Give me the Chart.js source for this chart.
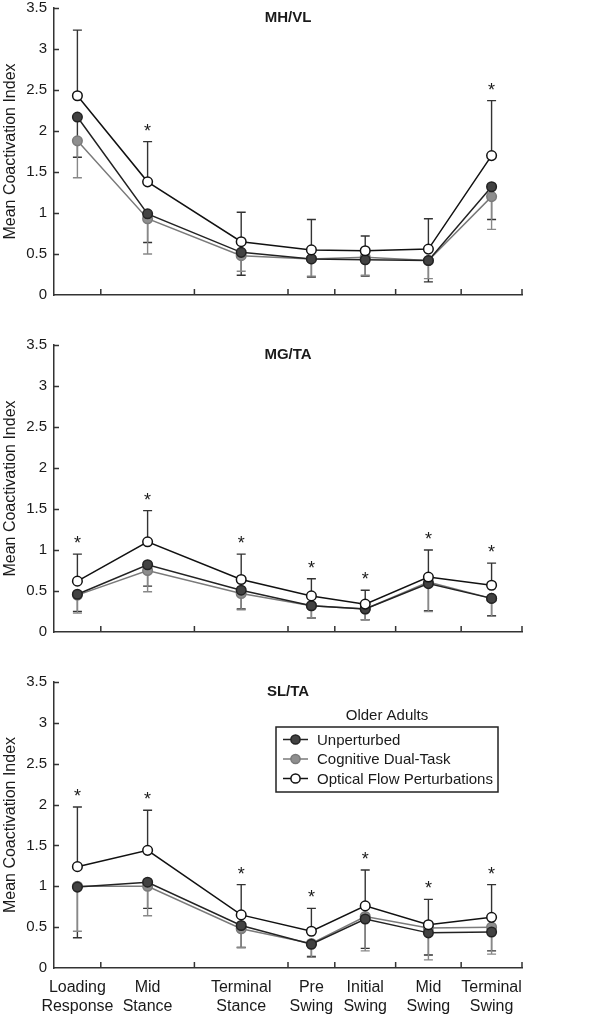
<!DOCTYPE html>
<html>
<head>
<meta charset="utf-8">
<script src="https://cdn.jsdelivr.net/npm/chart.js@4.4.1/dist/chart.umd.min.js"></script>
<style>
  body { margin: 0; background: #fff; width: 600px; height: 1019px; position: relative; overflow: hidden; }
  canvas { position: absolute; left: 0; }
</style>
</head>
<body>
<canvas id="c1" width="600" height="337" style="top:-2px"></canvas>
<canvas id="c2" width="600" height="337" style="top:335px"></canvas>
<canvas id="c3" width="600" height="347" style="top:672px"></canvas>
<script>
// gait phases: boundaries (% of cycle) and label positions
const phaseEdges = [10, 30, 50, 60, 73, 87, 100];
const phaseMid = [5, 20, 40, 55, 66.5, 80, 93.5];
const phaseLabels = [["Loading", "Response"], ["Mid", "Stance"], ["Terminal", "Stance"],
  ["Pre", "Swing"], ["Initial", "Swing"], ["Mid", "Swing"], ["Terminal", "Swing"]];
const seriesNames = ["Unperturbed", "Cognitive Dual-Task", "Optical Flow Perturbations"];

// MH/VL
const mhvlUnpert = [2.17, 0.99, 0.52, 0.44, 0.43, 0.42, 1.32];
const mhvlUnpertSD = [0.49, 0.35, 0.28, 0.22, 0.20, 0.26, 0.40];
const mhvlDual = [1.88, 0.93, 0.48, 0.44, 0.46, 0.42, 1.20];
const mhvlDualSD = [0.45, 0.43, 0.19, 0.21, 0.22, 0.22, 0.40];
const mhvlOptic = [2.43, 1.38, 0.65, 0.55, 0.54, 0.56, 1.70];
const mhvlOpticSD = [0.80, 0.49, 0.36, 0.37, 0.18, 0.37, 0.67];
const mhvlSig = [0, 1, 0, 0, 0, 0, 1];

// MG/TA
const mgtaUnpert = [0.46, 0.82, 0.51, 0.32, 0.28, 0.59, 0.41];
const mgtaUnpertSD = [0.21, 0.26, 0.23, 0.15, 0.13, 0.33, 0.21];
const mgtaDual = [0.45, 0.75, 0.47, 0.32, 0.28, 0.61, 0.41];
const mgtaDualSD = [0.22, 0.26, 0.20, 0.15, 0.13, 0.36, 0.22];
const mgtaOptic = [0.62, 1.10, 0.64, 0.44, 0.34, 0.67, 0.57];
const mgtaOpticSD = [0.33, 0.38, 0.31, 0.21, 0.17, 0.33, 0.27];
const mgtaSig = [1, 1, 1, 1, 1, 1, 1];

// SL/TA
const sltaUnpert = [0.99, 1.05, 0.52, 0.29, 0.60, 0.43, 0.44];
const sltaUnpertSD = [0.62, 0.32, 0.27, 0.15, 0.36, 0.27, 0.23];
const sltaDual = [1.00, 1.00, 0.48, 0.30, 0.63, 0.49, 0.50];
const sltaDualSD = [0.55, 0.36, 0.23, 0.17, 0.42, 0.39, 0.33];
const sltaOptic = [1.24, 1.44, 0.65, 0.45, 0.76, 0.53, 0.62];
const sltaOpticSD = [0.73, 0.49, 0.37, 0.28, 0.44, 0.31, 0.40];
const sltaSig = [1, 1, 1, 1, 1, 1, 1];

const FONT = "'Liberation Sans', Arial, Helvetica, sans-serif";
const AXIS = "#333";
const TEXT = "#1a1a1a";

const styles = [
  { line: "#222", fill: "#424242", border: "#222", err: "#333", dir: -1, order: 2 },
  { line: "#7a7a7a", fill: "#8e8e8e", border: "#7a7a7a", err: "#888", dir: -1, order: 3 },
  { line: "#111", fill: "#ffffff", border: "#111", err: "#333", dir: 1, order: 1 },
];

const panelPlugin = {
  id: "panel",
  beforeDatasetsDraw(chart) {
    const ctx = chart.ctx;
    const y = chart.scales.y;
    chart.data.datasets.forEach((ds, i) => {
      const meta = chart.getDatasetMeta(i);
      ctx.save();
      ctx.strokeStyle = ds.errColor;
      ctx.lineWidth = 1.4;
      meta.data.forEach((pt, j) => {
        const end = y.getPixelForValue(ds.data[j].y + ds.errDir * ds.err[j]);
        ctx.beginPath();
        ctx.moveTo(pt.x, pt.y);
        ctx.lineTo(pt.x, end);
        ctx.moveTo(pt.x - 4.5, end);
        ctx.lineTo(pt.x + 4.5, end);
        ctx.stroke();
      });
      ctx.restore();
    });
  },
  afterDraw(chart, args, opts) {
    const ctx = chart.ctx;
    const { left, right, top, bottom } = chart.chartArea;
    const x = chart.scales.x, y = chart.scales.y;
    ctx.save();
    // inward ticks
    ctx.strokeStyle = AXIS;
    ctx.lineWidth = 1.5;
    ctx.beginPath();
    y.ticks.forEach(t => {
      if (t.value === 0) return;
      const py = Math.round(y.getPixelForValue(t.value)) + 0.5;
      ctx.moveTo(left, py);
      ctx.lineTo(left + 5, py);
    });
    phaseEdges.forEach(v => {
      const px = x.getPixelForValue(v);
      ctx.moveTo(px, bottom);
      ctx.lineTo(px, bottom - 6);
    });
    ctx.stroke();

    // panel title
    ctx.fillStyle = TEXT;
    ctx.font = "bold 15px " + FONT;
    ctx.textAlign = "center";
    ctx.textBaseline = "alphabetic";
    ctx.fillText(opts.title, (left + right) / 2, top + 14);

    // significance stars above the optical-flow error bars
    const of = chart.data.datasets[2];
    ctx.font = "18px " + FONT;
    opts.sig.forEach((s, j) => {
      if (!s) return;
      const px = x.getPixelForValue(phaseMid[j]);
      const py = y.getPixelForValue(of.data[j].y + of.err[j]);
      ctx.fillText("*", px, py - 5);
    });

    // legend
    if (opts.legend) {
      const bx = right - 246, bw = 222, by = top + 45, bh = 65;
      ctx.font = "15px " + FONT;
      ctx.textBaseline = "middle";
      ctx.fillText("Older Adults", bx + bw / 2, top + 34);
      ctx.strokeStyle = "#222";
      ctx.lineWidth = 1.5;
      ctx.strokeRect(bx, by, bw, bh);
      ctx.textAlign = "left";
      chart.data.datasets.forEach((ds, i) => {
        const ry = by + 12.5 + i * 19.5;
        ctx.strokeStyle = ds.borderColor;
        ctx.lineWidth = 1.5;
        ctx.beginPath();
        ctx.moveTo(bx + 7, ry);
        ctx.lineTo(bx + 32, ry);
        ctx.stroke();
        ctx.beginPath();
        ctx.arc(bx + 19.5, ry, 4.6, 0, Math.PI * 2);
        ctx.fillStyle = ds.pointBackgroundColor;
        ctx.fill();
        ctx.strokeStyle = ds.pointBorderColor;
        ctx.stroke();
        ctx.fillStyle = TEXT;
        ctx.fillText(ds.label, bx + 41, ry + 1);
      });
    }
    ctx.restore();
  }
};

function makePanel(id, title, series, sds, sig, showX, xHeight, legend) {
  const datasets = series.map((vals, i) => ({
    label: seriesNames[i],
    data: vals.map((v, j) => ({ x: phaseMid[j], y: v })),
    err: sds[i],
    errDir: styles[i].dir,
    errColor: styles[i].err,
    order: styles[i].order,
    borderColor: styles[i].line,
    borderWidth: 1.5,
    pointRadius: 4.8,
    pointBorderWidth: 1.5,
    pointBackgroundColor: styles[i].fill,
    pointBorderColor: styles[i].border,
    tension: 0,
  }));
  return new Chart(document.getElementById(id), {
    type: "line",
    data: { datasets },
    options: {
      responsive: false,
      animation: false,
      events: [],
      layout: { padding: { top: 10, right: 78, left: 0, bottom: 0 } },
      scales: {
        x: {
          type: "linear",
          min: 0,
          max: 100,
          afterBuildTicks: s => { s.ticks = phaseMid.map(v => ({ value: v })); },
          afterFit: s => { s.height = xHeight; s.paddingLeft = 0; s.paddingRight = 0; },
          grid: { display: false, drawTicks: false },
          border: { color: AXIS, width: 1.5 },
          ticks: {
            autoSkip: false,
            maxRotation: 0,
            padding: 10,
            color: TEXT,
            font: { family: FONT, size: 16 },
            callback: (v, i) => showX ? phaseLabels[i] : "",
          },
        },
        y: {
          min: 0,
          max: 3.5,
          afterFit: s => { s.width = 54; s.paddingTop = 0; s.paddingBottom = 0; },
          grid: { display: false, drawTicks: false },
          border: { color: AXIS, width: 1.5 },
          ticks: {
            stepSize: 0.5,
            padding: 7,
            color: TEXT,
            font: { family: FONT, size: 15 },
            callback: v => String(+v.toFixed(1)),
          },
          title: {
            display: true,
            text: "Mean Coactivation Index",
            color: TEXT,
            font: { family: FONT, size: 16 },
            padding: 1,
          },
        },
      },
      plugins: {
        legend: { display: false },
        tooltip: { enabled: false },
        panel: { title, sig, legend },
      },
    },
    plugins: [panelPlugin],
  });
}

makePanel("c1", "MH/VL", [mhvlUnpert, mhvlDual, mhvlOptic],
  [mhvlUnpertSD, mhvlDualSD, mhvlOpticSD], mhvlSig, false, 40, false);
makePanel("c2", "MG/TA", [mgtaUnpert, mgtaDual, mgtaOptic],
  [mgtaUnpertSD, mgtaDualSD, mgtaOpticSD], mgtaSig, false, 40, false);
makePanel("c3", "SL/TA", [sltaUnpert, sltaDual, sltaOptic],
  [sltaUnpertSD, sltaDualSD, sltaOpticSD], sltaSig, true, 51, true);
</script>
</body>
</html>
